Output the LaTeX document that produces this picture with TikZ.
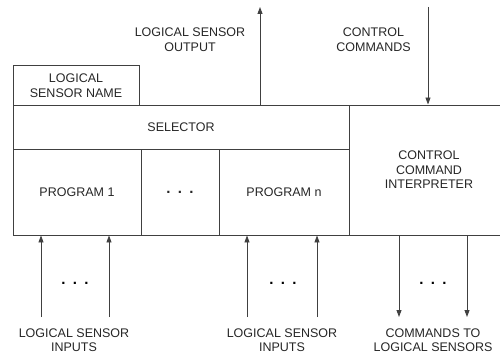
\documentclass[tikz,border=0pt]{standalone}
\usepackage{fontspec}
\setmainfont{Liberation Sans}
\usetikzlibrary{arrows.meta}
\tikzset{
  box/.style={draw=black!75, line width=0.9pt, rectangle, inner sep=0pt,
    align=center, text=black!85},
  lbl/.style={align=center, inner sep=0pt, text=black!85},
  arr/.style={draw=black!75, line width=0.9pt, -{Triangle[length=7pt,width=5pt]}},
  dotsnode/.style={inner sep=0pt, text=black}
}
\newcommand{\threedots}{{\fontsize{15}{15}\selectfont\bfseries .\hspace{7.4pt}.\hspace{7.4pt}.}}
\begin{document}
\begin{tikzpicture}[x=1pt,y=-1pt,
  every node/.append style={font=\fontsize{12.5}{14.5}\selectfont}]
\useasboundingbox (0,0) rectangle (500,355);

% blocks
\node[box, minimum width=126pt, minimum height=39.5pt] (name) at (76,85.5) {LOGICAL\\SENSOR NAME};
\node[box, minimum width=336pt, minimum height=44pt] (selector) at (181,127) {SELECTOR};
\node[box, minimum width=128pt, minimum height=86pt] (prog1) at (77,192) {PROGRAM 1};
\node[box, minimum width=78pt, minimum height=86pt] (progdots) at (180,192) {\raisebox{-4pt}{\threedots}};
\node[box, minimum width=130pt, minimum height=86pt] (progn) at (284,192) {PROGRAM n};
\node[box, minimum width=160pt, minimum height=130pt] (interp) at (429,170) {CONTROL\\COMMAND\\INTERPRETER};

% free ends of the connectors
\coordinate (outtop) at (260,7);
\coordinate (ctrltop) at (428,7);
\coordinate (in1) at (41,317);
\coordinate (in2) at (109,317);
\coordinate (in3) at (247,317);
\coordinate (in4) at (317,317);
\coordinate (out1) at (399,317);
\coordinate (out2) at (467,317);

% connectors
\draw[arr] (selector.north -| outtop) -- (outtop);
\draw[arr] (ctrltop) -- (interp.north -| ctrltop);
\draw[arr] (in1) -- (prog1.south -| in1);
\draw[arr] (in2) -- (prog1.south -| in2);
\draw[arr] (in3) -- (progn.south -| in3);
\draw[arr] (in4) -- (progn.south -| in4);
\draw[arr] (interp.south -| out1) -- (out1);
\draw[arr] (interp.south -| out2) -- (out2);

% ellipses between connectors
\node[dotsnode] (d1) at (75,283) {\threedots};
\node[dotsnode] (d2) at (283,283) {\threedots};
\node[dotsnode] (d3) at (433,283) {\threedots};

% labels
\node[lbl] (outlbl) at (190,39.5) {LOGICAL SENSOR\\OUTPUT};
\node[lbl] (ctrllbl) at (373.5,39.5) {CONTROL\\COMMANDS};
\node[lbl] (inlbl1) at (74,340) {LOGICAL SENSOR\\INPUTS};
\node[lbl] (inlbl2) at (282,340) {LOGICAL SENSOR\\INPUTS};
\node[lbl] (cmdlbl) at (433,340) {COMMANDS TO\\LOGICAL SENSORS};
\end{tikzpicture}
\end{document}
